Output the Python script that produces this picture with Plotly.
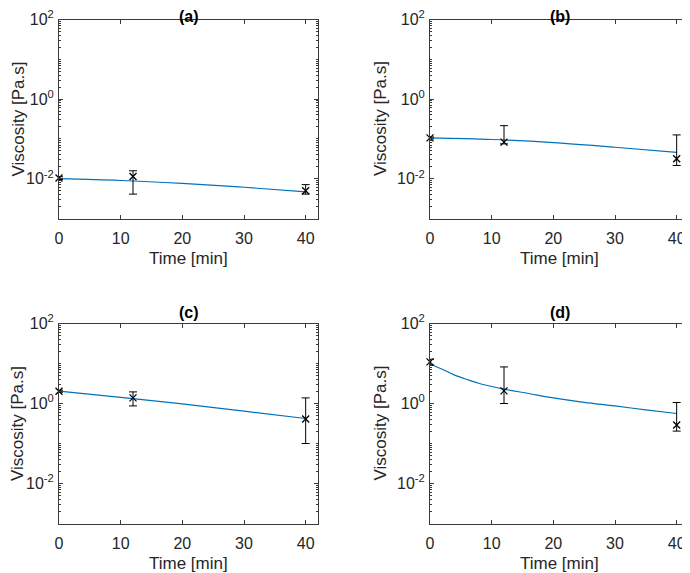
import plotly.graph_objects as go

# measured points: time, value, upper and lower error bounds
t_meas = [0, 12, 40]

visc_a = [0.0104, 0.0114, 0.0050]
upper_a = [0.0112, 0.0158, 0.0071]
lower_a = [0.0096, 0.0041, 0.0041]

visc_b = [0.106, 0.083, 0.0316]
upper_b = [0.112, 0.215, 0.126]
lower_b = [0.100, 0.075, 0.0215]

visc_c = [2.03, 1.38, 0.41]
upper_c = [2.15, 1.95, 1.38]
lower_c = [1.92, 0.87, 0.10]

visc_d = [11.0, 2.07, 0.29]
upper_d = [12.8, 8.2, 1.06]
lower_d = [9.1, 1.0, 0.204]

# model curves
t_fit = [0, 10, 20, 30, 40]
fit_a = [0.0100, 0.00902, 0.00759, 0.00610, 0.00468]
fit_b = [0.106, 0.0966, 0.0804, 0.0617, 0.0457]
fit_c = [2.04, 1.43, 0.977, 0.646, 0.422]
t_fit_d = [0, 1, 2, 4, 6, 8, 12, 16, 20, 25, 30, 35, 40]
fit_d = [10.0, 8.32, 7.16, 5.13, 3.98, 3.16, 2.29, 1.78, 1.38, 1.07, 0.871, 0.692, 0.562]

panels = [
    ("(a)", t_fit, fit_a, visc_a, upper_a, lower_a),
    ("(b)", t_fit, fit_b, visc_b, upper_b, lower_b),
    ("(c)", t_fit, fit_c, visc_c, upper_c, lower_c),
    ("(d)", t_fit_d, fit_d, visc_d, upper_d, lower_d),
]

# the page body has an 8px margin, so the figure is drawn 8px in from the corner
OFF = 8
W, H = 690 - OFF, 573 - OFF
# plot areas in window pixels: left, right, top, bottom
boxes = [(59, 318, 19.5, 218.5), (430, 689, 19.5, 218.5),
         (59, 318, 323.5, 523.5), (430, 689, 323.5, 523.5)]


def px(x):
    return (x - OFF) / W


def py(y):
    return 1 - (y - OFF) / H


FONT = "Liberation Sans, Arial, Helvetica, sans-serif"
AX = "#3a3a3a"
TXT = "#262626"

minor_vals = [k * 10.0 ** e for e in range(-3, 2) for k in range(1, 10)] + [100]

fig = go.Figure()
layout = dict(
    width=W, height=H,
    margin=dict(l=0, r=0, t=0, b=0),
    paper_bgcolor="white", plot_bgcolor="white",
    showlegend=False,
    font=dict(family=FONT, size=16, color=TXT),
    annotations=[],
)

for i, (name, tf, yf, ym, up, lo) in enumerate(panels):
    n = "" if i == 0 else str(i + 1)
    xa, ya = "x" + n, "y" + n
    l, r, t, b = boxes[i]

    fig.add_trace(go.Scatter(
        x=tf, y=yf, mode="lines", line=dict(color="#0072BD", width=1.2, shape="spline"),
        xaxis=xa, yaxis=ya))
    fig.add_trace(go.Scatter(
        x=t_meas, y=ym, mode="markers", cliponaxis=False,
        marker=dict(symbol="x-thin", size=7, color="black", line=dict(width=1.3, color="black")),
        error_y=dict(type="data", symmetric=False,
                     array=[u - v for u, v in zip(up, ym)],
                     arrayminus=[v - w for v, w in zip(ym, lo)],
                     color="black", thickness=1, width=4),
        xaxis=xa, yaxis=ya))

    layout["xaxis" + n] = dict(
        domain=[px(l), px(r)], anchor=ya, range=[0, 42], automargin=False,
        tickvals=[0, 10, 20, 30, 40], ticks="inside", ticklen=4, tickcolor=AX,
        ticklabelstandoff=5,
        showline=True, linecolor=AX, linewidth=1, mirror="allticks",
        showgrid=False, zeroline=False, tickfont=dict(size=16, color=TXT),
    )
    layout["yaxis" + n] = dict(
        domain=[py(b), py(t)], anchor=xa, type="log", range=[-3, 2],
        automargin=False,
        tickvals=[0.01, 1, 100],
        ticktext=["10<sup>-2</sup>", "10<sup>0</sup>", "10<sup>2</sup>"],
        ticks="inside", ticklen=4, tickcolor=AX, ticklabelstandoff=1,
        minor=dict(tickvals=minor_vals, ticks="inside", ticklen=2, tickcolor=AX),
        showline=True, linecolor=AX, linewidth=1, mirror="allticks",
        showgrid=False, zeroline=False, tickfont=dict(size=16, color=TXT),
    )

    cx = px((l + r) / 2)
    common = dict(xref="paper", yref="paper", showarrow=False,
                  xanchor="center", yanchor="middle")
    # keep the top titles and the left axis title inside the figure area
    title_y = max(t - 11, OFF + 8)
    ytitle_x = max(l - 50, OFF + 9.5)
    layout["annotations"] += [
        dict(text="<b>" + name + "</b>", x=cx, y=py(title_y),
             font=dict(size=16, color="black"), **common),
        dict(text="Time [min]", x=cx, y=py(b + 40),
             font=dict(size=17, color=TXT), **common),
        dict(text="Viscosity [Pa.s]", x=px(ytitle_x), y=py((t + b) / 2), textangle=-90,
             font=dict(size=17, color=TXT), **common),
    ]

fig.update_layout(**layout)
fig.write_html("out.html")
